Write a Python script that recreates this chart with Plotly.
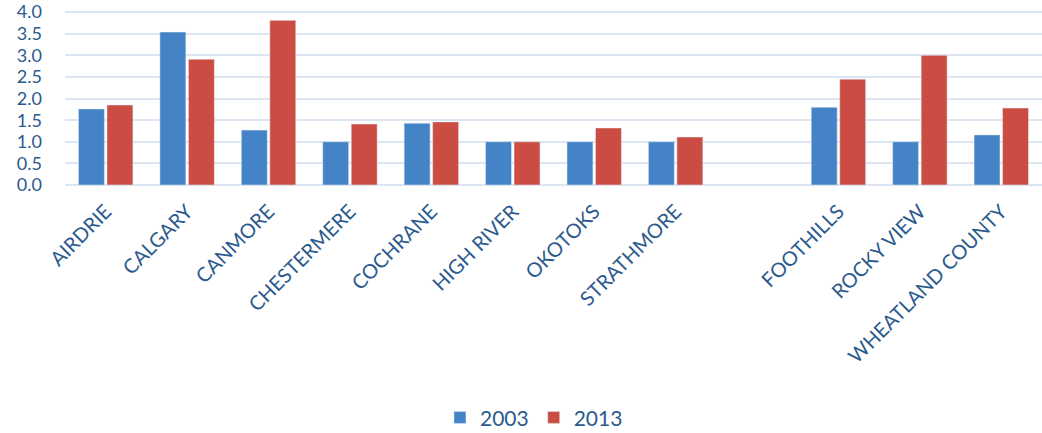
import plotly.graph_objects as go

categories = ["AIRDRIE", "CALGARY", "CANMORE", "CHESTERMERE", "COCHRANE", "HIGH RIVER",
              "OKOTOKS", "STRATHMORE", " ", "FOOTHILLS", "ROCKY VIEW", "WHEATLAND COUNTY"]
v2003 = [1.76, 3.54, 1.27, 1.00, 1.43, 1.00, 1.00, 1.00, None, 1.80, 1.00, 1.16]
v2013 = [1.85, 2.91, 3.81, 1.41, 1.46, 1.00, 1.32, 1.11, None, 2.45, 3.00, 1.78]
yticks = [0.0, 0.5, 1.0, 1.5, 2.0, 2.5, 3.0, 3.5, 4.0]

txt = "#2B5A8E"
fig = go.Figure()
fig.add_trace(go.Bar(x=categories, y=v2003, name="2003", marker_color="#4484C6"))
fig.add_trace(go.Bar(x=categories, y=v2013, name="2013", marker_color="#CB4C43"))

fig.update_layout(
    width=1042, height=433,
    margin=dict(l=65, r=0, t=10, b=248, autoexpand=False),
    plot_bgcolor="white", paper_bgcolor="white",
    barmode="group", bargap=0.3, bargroupgap=0.09,
    font=dict(family="Lato", color=txt),
    legend=dict(orientation="h", x=0.48, xanchor="center", y=-1.33, yanchor="middle",
                font=dict(size=21, color=txt), itemwidth=30,
                traceorder="normal"),
    showlegend=True,
)
fig.update_xaxes(type="category", tickangle=-45, tickfont=dict(size=20, color=txt),
                 showgrid=False, showline=False, ticks="", ticklabelstandoff=10,
                 automargin=False)
fig.update_yaxes(range=[0, 4.05], tickvals=yticks, ticktext=[f"{t:.1f}" for t in yticks],
                 tickfont=dict(size=18, color=txt), showgrid=True, gridcolor="#DCE6F2",
                 gridwidth=2, zeroline=True, zerolinecolor="#DCE6F2", zerolinewidth=2,
                 ticklabelstandoff=22, showline=False, automargin=False,
                 ticklabeloverflow="allow")

fig.write_html("out.html")
